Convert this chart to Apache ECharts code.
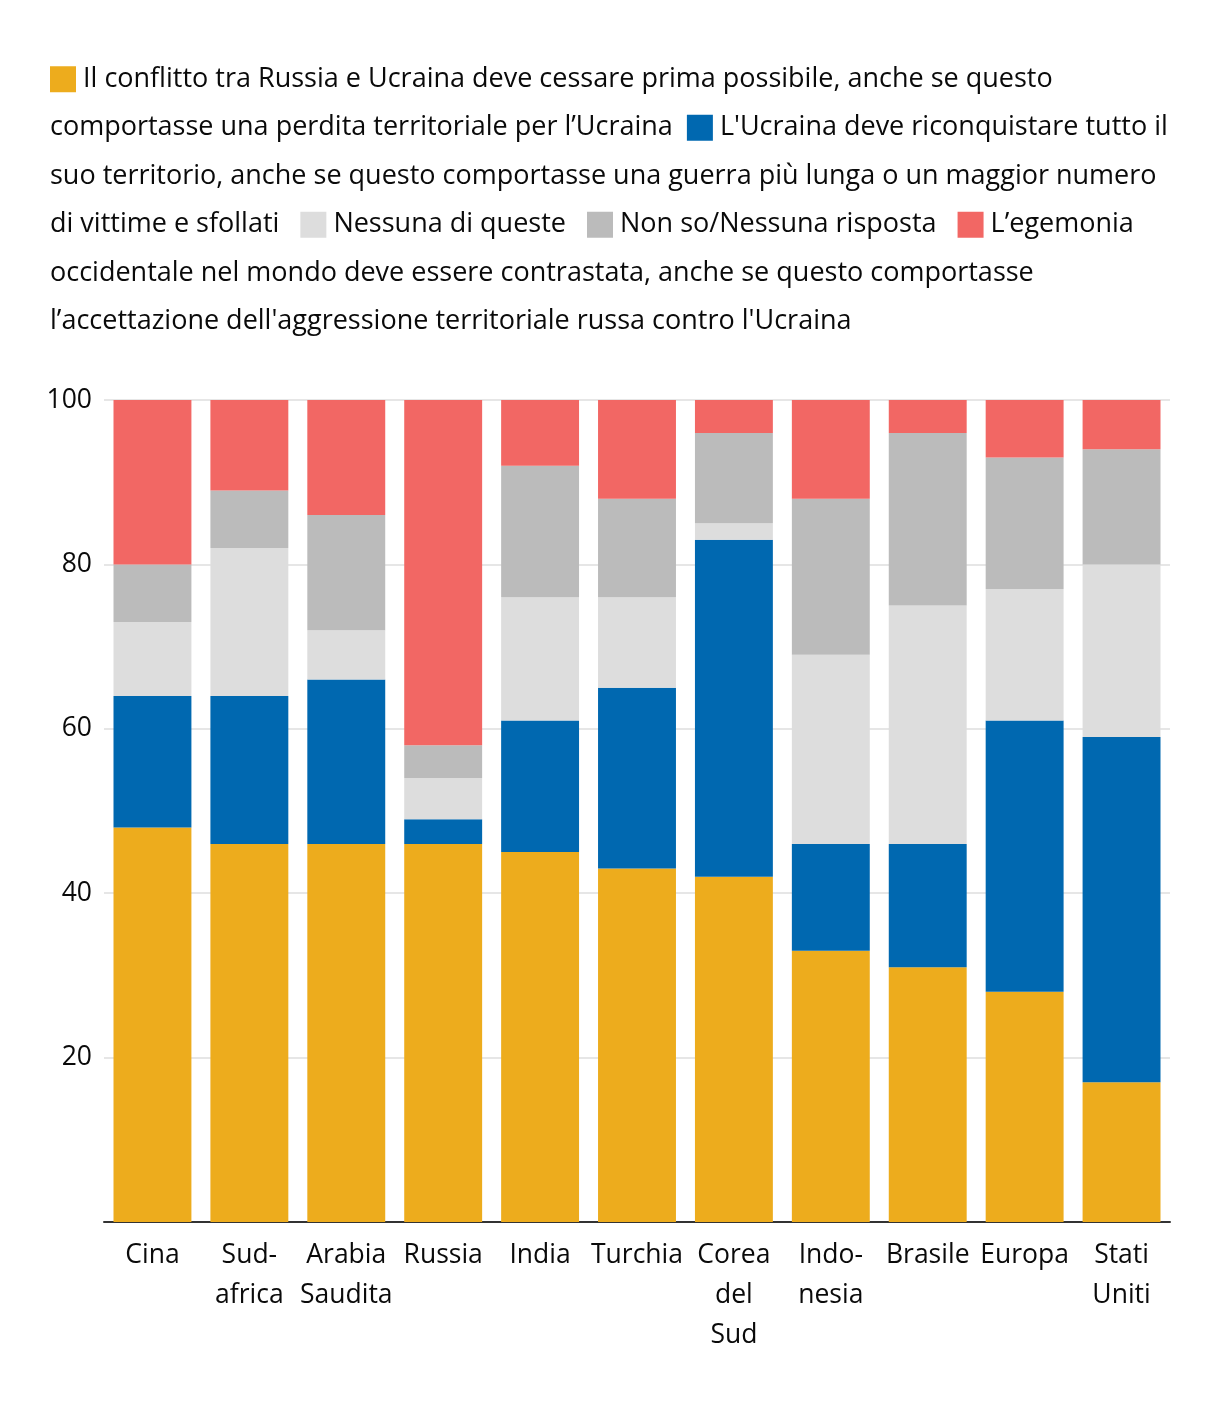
<!DOCTYPE html>
<html><head><meta charset="utf-8">
<script src="https://cdn.jsdelivr.net/npm/echarts@6/dist/echarts.min.js"></script>
<style>html,body{margin:0;padding:0;background:#fff}#c{width:1220px;height:1412px}</style>
</head><body><div id="c"></div>
<script>
const categories = ['Cina','Sud-\nafrica','Arabia\nSaudita','Russia','India','Turchia','Corea\ndel\nSud','Indo-\nnesia','Brasile','Europa','Stati\nUniti'];
const seriesNames = [
  'Il conflitto tra Russia e Ucraina deve cessare prima possibile, anche se questo comportasse una perdita territoriale per l’Ucraina',
  "L'Ucraina deve riconquistare tutto il suo territorio, anche se questo comportasse una guerra più lunga o un maggior numero di vittime e sfollati",
  'Nessuna di queste',
  'Non so/Nessuna risposta',
  "L’egemonia occidentale nel mondo deve essere contrastata, anche se questo comportasse l’accettazione dell'aggressione territoriale russa contro l'Ucraina"
];
const cessare     = [48, 46, 46, 46, 45, 43, 42, 33, 31, 28, 17];
const riconquista = [16, 18, 20,  3, 16, 22, 41, 13, 15, 33, 42];
const nessuna     = [ 9, 18,  6,  5, 15, 11,  2, 23, 29, 16, 21];
const nonSo       = [ 7,  7, 14,  4, 16, 12, 11, 19, 21, 16, 14];
const egemonia    = [20, 11, 14, 42,  8, 12,  4, 12,  4,  7,  6];
const yTicks = [20, 40, 60, 80, 100];
const colors = ['#EDAC1D', '#0068B0', '#DDDDDD', '#BBBBBB', '#F26764'];

const FONT = 'Open Sans';
const chart = echarts.init(document.getElementById('c'), null, {renderer: 'canvas'});
const legendText = [
  '{y| } Il conflitto tra Russia e Ucraina deve cessare prima possibile, anche se questo',
  'comportasse una perdita territoriale per l’Ucraina  {b| } L\'Ucraina deve riconquistare tutto il',
  'suo territorio, anche se questo comportasse una guerra più lunga o un maggior numero',
  'di vittime e sfollati   {l| } Nessuna di queste   {g| } Non so/Nessuna risposta   {r| } L’egemonia',
  'occidentale nel mondo deve essere contrastata, anche se questo comportasse',
  'l’accettazione dell\'aggressione territoriale russa contro l\'Ucraina'
].join('\n');
const box = c => ({backgroundColor: c, width: 26, height: 26, lineHeight: 48.5});
const data = [cessare, riconquista, nessuna, nonSo, egemonia];
chart.setOption({
  animation: false,
  textStyle: {fontFamily: FONT},
  title: {
    left: 50, top: 55, padding: 0,
    text: legendText,
    textStyle: {fontFamily: FONT, fontSize: 27, fontWeight: 'normal', color: '#0a0a0a', lineHeight: 48.5,
      rich: {y: box(colors[0]), b: box(colors[1]), l: box(colors[2]), g: box(colors[3]), r: box(colors[4])}}
  },
  grid: {left: 104, right: 50, top: 400, bottom: 190},
  xAxis: {
    type: 'category', data: categories,
    axisLine: {lineStyle: {color: '#333', width: 2}},
    axisTick: {show: false},
    axisLabel: {fontFamily: FONT, fontSize: 26.5, color: '#0a0a0a', lineHeight: 40, margin: 13, interval: 0}
  },
  yAxis: {
    type: 'value', min: 0, max: 100, interval: 20,
    axisLine: {show: false}, axisTick: {show: false},
    splitLine: {lineStyle: {color: '#e6e6e6', width: 2}},
    axisLabel: {fontFamily: FONT, fontSize: 26.5, color: '#0a0a0a', margin: 12,
      formatter: v => yTicks.includes(v) ? String(v) : ''}
  },
  series: data.map((d, i) => ({
    name: seriesNames[i], type: 'bar', stack: 'tot', data: d,
    barCategoryGap: '19.6%',
    itemStyle: {color: colors[i]}
  }))
});
</script></body></html>
